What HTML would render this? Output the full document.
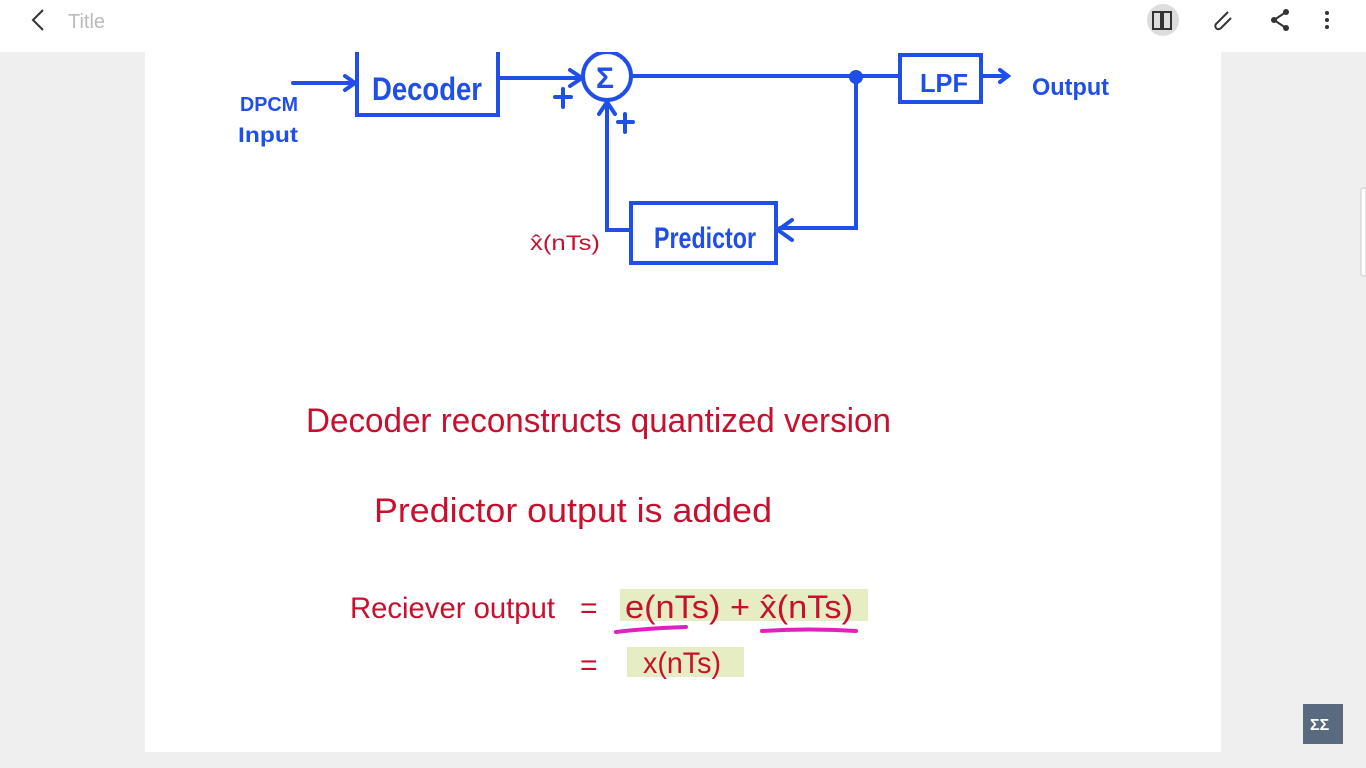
<!DOCTYPE html>
<html><head><meta charset="utf-8"><style>
body{margin:0;width:1366px;height:768px;background:#efefef;overflow:hidden;font-family:"Liberation Sans",sans-serif;position:relative}
.top{position:absolute;left:0;top:0;width:1366px;height:52px;background:#fff;z-index:2}
.page{position:absolute;left:145px;top:52px;width:1076px;height:700px;background:#fff}
</style></head><body>
<div class="top">
 <svg width="1366" height="52">
  <path d="M43 10 L33 20 L43 30" stroke="#333" stroke-width="2" fill="none"/>
  <text x="68" y="28" font-size="20" fill="#bbb">Title</text>
  <circle cx="1163" cy="20" r="16" fill="#ddd"/>
  <path d="M1153 12 h8 v17 h-8z M1163 12 h8 v17 h-8z" stroke="#333" stroke-width="2" fill="none"/>
  <path d="M1228 12 l-12 12 a3 3 0 0 0 5 4 l10 -10" stroke="#333" stroke-width="2" fill="none"/>
  <g fill="#333"><circle cx="1286" cy="12" r="3"/><circle cx="1286" cy="28" r="3"/><circle cx="1274" cy="20" r="3"/><path d="M1286 12 L1274 20 L1286 28" stroke="#333" stroke-width="2" fill="none"/></g>
  <g fill="#333"><circle cx="1327" cy="13" r="2"/><circle cx="1327" cy="20" r="2"/><circle cx="1327" cy="27" r="2"/></g>
 </svg>
</div>
<div class="page"></div>
<svg style="position:absolute;left:0;top:0" width="1366" height="768">
 <g stroke="#1f4fe6" stroke-width="4" fill="none" stroke-linecap="round">
  <path d="M293 83 H355 M345 76 L355 83 L345 90"/>
  <rect x="357" y="50" width="141" height="65"/>
  <path d="M500 78 H580 M570 70 L582 78 L570 86"/>
  <circle cx="607" cy="76" r="24"/>
  <path d="M632 76 H898"/>
  <circle cx="856" cy="77" r="5" fill="#1f4fe6"/>
  <rect x="900" y="55" width="81" height="47"/>
  <path d="M983 76 H1008 M1000 70 L1008 76 L1000 82"/>
  <path d="M856 80 V228 H780 M792 220 L778 230 L792 240"/>
  <rect x="631" y="203" width="145" height="60"/>
  <path d="M630 230 H607 V104 M599 114 L607 102 L615 114"/>
  <path d="M555 97 H571 M563 89 V107 M618 122 H633 M625 114 V132"/>
 </g>
 <g fill="#1f4fe6" font-weight="bold">
  <text x="372" y="100" font-size="32" textLength="110" lengthAdjust="spacingAndGlyphs">Decoder</text>
  <text x="596" y="88" font-size="30">Σ</text>
  <text x="920" y="92" font-size="26" textLength="48" lengthAdjust="spacingAndGlyphs">LPF</text>
  <text x="654" y="248" font-size="30" textLength="102" lengthAdjust="spacingAndGlyphs">Predictor</text>
  <text x="1032" y="95" font-size="24" textLength="77" lengthAdjust="spacingAndGlyphs">Output</text>
  <text x="240" y="111" font-size="20" textLength="58" lengthAdjust="spacingAndGlyphs">DPCM</text>
  <text x="238" y="142" font-size="21" textLength="60" lengthAdjust="spacingAndGlyphs">Input</text>
 </g>
 <text x="530" y="250" font-size="21" fill="#c8102e" textLength="70" lengthAdjust="spacingAndGlyphs">x̂(nTs)</text>
 <g fill="#c8102e" font-size="34">
  <text x="306" y="432" textLength="585" lengthAdjust="spacingAndGlyphs">Decoder   reconstructs   quantized   version</text>
  <text x="374" y="522" textLength="398" lengthAdjust="spacingAndGlyphs">Predictor   output   is   added</text>
  <rect x="620" y="589" width="248" height="32" fill="#e7edc3"/>
  <rect x="627" y="647" width="117" height="30" fill="#e7edc3"/>
  <text x="350" y="618" font-size="30" textLength="205" lengthAdjust="spacingAndGlyphs">Reciever  output</text>
  <text x="580" y="618" font-size="30">=</text>
  <text x="625" y="618" font-size="32" textLength="228" lengthAdjust="spacingAndGlyphs">e(nTs) + x̂(nTs)</text>
  <text x="580" y="675" font-size="30">=</text>
  <text x="643" y="673" font-size="30" textLength="78" lengthAdjust="spacingAndGlyphs">x(nTs)</text>
 </g>
 <path d="M616 632 Q650 628 686 627 M762 631 Q810 628 856 631" stroke="#e020c0" stroke-width="4" fill="none" stroke-linecap="round"/>
 <rect x="1303" y="704" width="40" height="40" fill="#5a6a7e"/>
 <text x="1310" y="730" font-size="16" fill="#fff" font-weight="bold">ΣΣ</text>
 <rect x="1361" y="188" width="5" height="88" rx="2" fill="#fff" stroke="#ccc"/>
</svg>
</body></html>
